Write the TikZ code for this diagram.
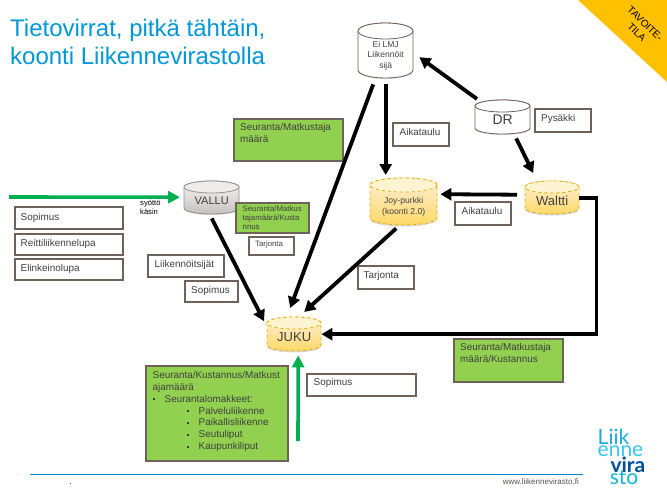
\documentclass[tikz,border=0pt]{standalone}
\usepackage{fontspec}
\setmainfont{Liberation Sans}
\newfontfamily\logofont{Lato}
\usetikzlibrary{arrows.meta,shadows}
\definecolor{bord}{HTML}{6E6259}
\definecolor{grn}{HTML}{92D050}
\definecolor{sgreen}{HTML}{00B050}
\definecolor{ttl}{HTML}{0098D8}
\definecolor{txt}{HTML}{404040}
\definecolor{corner}{HTML}{FFC000}
\definecolor{footline}{HTML}{0088CC}
\definecolor{logoa}{HTML}{1EA7E1}
\definecolor{logob}{HTML}{33C4F0}
\definecolor{logoc}{HTML}{004F9F}
\definecolor{logod}{HTML}{14B5D8}
\tikzset{
  boxw/.style={draw=bord,line width=1.6pt,fill=white,inner sep=0pt,anchor=north west},
  boxg/.style={draw=bord,line width=1.6pt,fill=grn,inner sep=0pt,anchor=north west},
  lab/.style={anchor=north west,inner sep=0pt,align=left,text=txt,font=\fontsize{9.9}{11.9}\selectfont},
  labsmall/.style={lab,font=\fontsize{7.8}{9}\selectfont},
  cylw/.style={draw=bord,line width=0.8pt,fill=white,drop shadow={shadow xshift=0pt,shadow yshift=-1pt,opacity=.3}},
  cylg/.style={draw=bord!70,line width=0.8pt,top color=white!95!bord,bottom color=bord!40,drop shadow={shadow xshift=0pt,shadow yshift=-1pt,opacity=.3}},
  cyly/.style={draw=corner!90!black,dashed,line width=0.8pt,top color=yellow!10!orange!15,bottom color=corner!60,drop shadow={shadow xshift=0pt,shadow yshift=-1.5pt,opacity=.3}},
  topw/.style={draw=bord,line width=0.8pt,fill=white},
  topg/.style={draw=bord!70,line width=0.8pt,fill=bord!12},
  topy/.style={draw=corner!90!black,dashed,line width=0.8pt,fill=corner!18},
  bigarrow/.style={draw=black,line width=3.8pt,-{Triangle[length=11pt,width=12pt]}},
  greenarrow/.style={draw=sgreen,line width=3.6pt,-{Triangle[length=12pt,width=12pt]}},
  logo/.style={inner sep=0pt,font=\logofont\fontsize{21}{21}\selectfont},
  logobold/.style={inner sep=0pt,font=\logofont\bfseries\fontsize{21}{21}\selectfont}
}
% name, x, y, w, h, style, text dx, text dy, text
\newcommand{\tbox}[9]{%
  \node[#6,minimum width=#4pt,minimum height=#5pt] (#1) at (#2,#3) {};
  \node[lab] (#1t) at ([shift={(#7,#8+1.5)}]#1.north west) {#9};
}
% name, x, y, w, h, ry, body style, text drop, font; text in \cyltext
\newcommand{\cylinder}[9]{%
  \begin{scope}[shift={(#2,#3)}]
    \pgfmathsetmacro{\cylhw}{#4/2}
    \pgfmathsetmacro{\cylb}{#5-#6}
    \path[cyl#7] (0,#6) -- (0,\cylb) arc[start angle=180,end angle=360,x radius=\cylhw pt,y radius=#6pt] -- (#4,#6) arc[start angle=0,end angle=180,x radius=\cylhw pt,y radius=#6pt] -- cycle;
    \path[top#7] (\cylhw,#6) ellipse[x radius=\cylhw pt,y radius=#6pt];
    \node[minimum width=#4pt,minimum height=#5pt,inner sep=0pt,anchor=north west] (#1) at (0,0) {};
    \node[inner sep=0pt,align=center,text=txt,#9] (#1t) at ([yshift=-#8pt]#1.center)
      {\cyltext};
  \end{scope}
}
\newcommand{\sqb}{\rule[2pt]{2pt}{2pt}}
\begin{document}
\begin{tikzpicture}[x=1pt,y=-1pt]
\useasboundingbox (0,0) rectangle (667,493);
\fill[white] (0,0) rectangle (667,493);

% corner flag
\fill[corner] (578,0) -- (667,82) -- (667,0) -- cycle;
\node[rotate=-44,align=center,inner sep=0pt,font=\fontsize{10}{12}\selectfont,text=black] (flag) at (641,28) {TAVOITE-\\TILA};

% title
\node[anchor=north west,inner sep=0pt,align=left,text=ttl,font=\fontsize{24}{27.5}\selectfont] (title) at (10,19) {Tietovirrat, pitkä tähtäin,\\koonti Liikennevirastolla};

% cylinders
\def\cyltext{Ei LMJ\\Liikennöit\\sijä}
\cylinder{ei}{358}{23}{55}{55}{8}{w}{5}{font=\fontsize{8.5}{10.5}\selectfont}
\def\cyltext{DR}
\cylinder{dr}{475}{100}{55}{34}{6}{w}{2.5}{font=\fontsize{14}{17}\selectfont}
\def\cyltext{Waltti}
\cylinder{waltti}{525}{181}{54}{33}{6}{y}{3.5}{font=\fontsize{13}{16}\selectfont}
\def\cyltext{Joy-purkki\\(koonti 2.0)}
\cylinder{joy}{370}{178}{67}{47}{7}{y}{5}{font=\fontsize{8.6}{10.5}\selectfont}
\def\cyltext{VALLU}
\cylinder{vallu}{184}{181}{55}{33}{6}{g}{3}{font=\fontsize{11}{13}\selectfont}
\def\cyltext{JUKU}
\cylinder{juku}{267}{317}{54}{34}{6}{y}{3}{font=\fontsize{13}{16}\selectfont}

% white boxes
\tbox{sop}{14}{206}{108}{22}{boxw}{6.5}{5.5}{Sopimus}
\tbox{reitti}{14}{233}{108}{21}{boxw}{6.5}{4.5}{Reittiliikennelupa}
\tbox{elin}{14}{258}{108}{21}{boxw}{6.5}{4.5}{Elinkeinolupa}
\tbox{liik}{147}{254}{76}{22}{boxw}{7.5}{4.5}{Liikennöitsijät}
\tbox{sop2}{184}{280}{53}{21}{boxw}{7}{4.5}{Sopimus}
\tbox{aika}{392}{122}{56}{23}{boxw}{7.5}{5}{Aikataulu}
\tbox{pys}{534}{108}{56}{23}{boxw}{7}{5}{Pysäkki}
\tbox{aika2}{454}{201}{56}{23}{boxw}{7.5}{5}{Aikataulu}
\tbox{tar}{357}{265}{56}{23}{boxw}{6.5}{5}{Tarjonta}
\tbox{sop3}{306}{373}{109}{22}{boxw}{7.5}{4}{Sopimus}
\node[boxw,minimum width=45pt,minimum height=18pt] (tar2) at (248,236) {};
\node[labsmall] (tar2t) at ([shift={(7,5)}]tar2.north west) {Tarjonta};

% green boxes
\tbox{g1}{233}{118}{109}{42}{boxg}{7}{3.5}{Seuranta/Matkustaja\\määrä}
\node[boxg,minimum width=73pt,minimum height=30pt] (g2) at (235,202) {};
\node[labsmall] (g2t) at ([shift={(7.5,4)}]g2.north west) {Seuranta/Matkus\\tajamäärä/Kusta\\nnus};
\tbox{g3}{453}{338}{109}{43}{boxg}{7}{4}{Seuranta/Matkustaja\\määrä/Kustannus}
\tbox{g4}{145}{365}{142}{95}{boxg}{7.5}{4.5}{Seuranta/Kustannus/Matkust\\ajamäärä\\\makebox[12pt][l]{\sqb}Seurantalomakkeet:\\\hspace*{34pt}\makebox[12pt][l]{\sqb}Palveluliikenne\\\hspace*{34pt}\makebox[12pt][l]{\sqb}Paikallisliikenne\\\hspace*{34pt}\makebox[12pt][l]{\sqb}Seutuliput\\\hspace*{34pt}\makebox[12pt][l]{\sqb}Kaupunkiliput}

% small note
\node[anchor=north west,inner sep=0pt,align=left,text=black,font=\fontsize{7.6}{9.5}\selectfont] (syotto) at (140,200) {syöttö\\käsin};

% connectors
\draw[bigarrow] ([shift={(2,-1)}]dr.north west) -- ([shift={(6,6.5)}]ei.east);
\draw[bigarrow] ([shift={(0,6)}]ei.south) -- ([shift={(0,-3)}]ei.south |- joy.north);
\draw[bigarrow] ([shift={(-12.5,6)}]ei.south) -- ([shift={(-4,-9)}]juku.north);
\draw[bigarrow] ([shift={(13.5,4)}]dr.south) -- ([shift={(-19,-8)}]waltti.north);
\draw[bigarrow] ([shift={(-8,-3)}]waltti.west) -- ([shift={(3,-7.5)}]joy.east);
\draw[bigarrow] (waltti.east) -- ++(17,0) |- (juku.east);
\draw[bigarrow] ([shift={(-7.5,3)}]joy.south) -- ([shift={(10,-5)}]juku.north);
\draw[bigarrow] ([shift={(0,4)}]vallu.south) -- ([shift={(-3,-13)}]juku.west);
\coordinate (gs) at (9,197);
\coordinate (gj) at (298,441);
\draw[greenarrow] (gs) -- ([shift={(-4,-0.5)}]vallu.west);
\draw[greenarrow] (gj) -- ([shift={(4,4)}]juku.south);

% footer
\coordinate (fa) at (30,474);
\coordinate (fb) at (583,474);
\draw[footline,line width=1pt] (fa) -- (fb);
\node[anchor=east,inner sep=0pt,text=bord!85!black,font=\fontsize{8}{10}\selectfont] (www) at (579,482) {www.liikennevirasto.fi};
\fill[black!70] (69.5,482.5) rectangle (71,484);

% logo
\node[logo,anchor=west,text=logoa] (l1) at (597.5,437) {Liik};
\node[logo,anchor=west,text=logob] (l2) at (597.5,451) {enne};
\node[logobold,anchor=east,text=logoc] (l3) at (645.5,465) {vira};
\node[logo,anchor=east,text=logod] (l4) at (638.5,478) {sto};
\end{tikzpicture}
\end{document}
